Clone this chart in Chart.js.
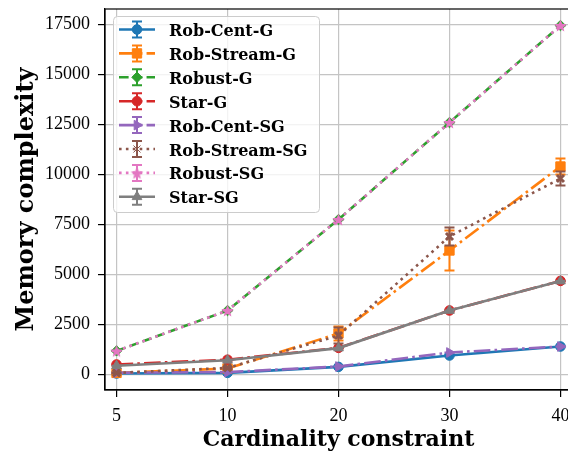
<!DOCTYPE html>
<html>
<head>
<meta charset="utf-8">
<script src="https://cdn.jsdelivr.net/npm/chart.js@4.4.1/dist/chart.umd.min.js"></script>
<style>
  html, body { margin: 0; padding: 0; background: #ffffff; width: 568px; height: 452px; overflow: hidden; }
  #wrap { position: absolute; left: 0; top: 0; width: 580px; height: 452px; }
</style>
</head>
<body>
<div id="wrap"><canvas id="c" width="580" height="452"></canvas></div>
<script>
// ---------------- data ----------------
const categories = ['5', '10', '20', '30', '40'];
const yTicks = [0, 2500, 5000, 7500, 10000, 12500, 15000, 17500];

const seriesNames = ['Rob-Cent-G', 'Rob-Stream-G', 'Robust-G', 'Star-G',
                     'Rob-Cent-SG', 'Rob-Stream-SG', 'Robust-SG', 'Star-SG'];

const robCentG      = [50, 80, 380, 950, 1400];
const robStreamG    = [80, 300, 2050, 6200, 10400];
const robustG       = [1180, 3200, 7750, 12600, 17450];
const starG         = [500, 740, 1330, 3200, 4680];
const robCentSG     = [90, 120, 400, 1100, 1400];
const robStreamSG   = [80, 330, 1950, 6900, 9800];
const robustSG      = [1180, 3200, 7750, 12600, 17450];
const starSG        = [440, 710, 1320, 3200, 4670];

const robCentGErr    = [0, 0, 0, 0, 0];
const robStreamGErr  = [20, 50, 350, 1000, 400];
const robustGErr     = [0, 0, 0, 0, 0];
const starGErr       = [0, 0, 0, 0, 0];
const robCentSGErr   = [0, 0, 0, 0, 0];
const robStreamSGErr = [20, 50, 400, 450, 350];
const robustSGErr    = [0, 0, 0, 0, 0];
const starSGErr      = [0, 0, 0, 0, 0];

const seriesValues = [robCentG, robStreamG, robustG, starG, robCentSG, robStreamSG, robustSG, starSG];
const seriesErrors = [robCentGErr, robStreamGErr, robustGErr, starGErr, robCentSGErr, robStreamSGErr, robustSGErr, starSGErr];

// ---------------- styles ----------------
const LW = 2.6;
const colors = ['#1f77b4', '#ff7f0e', '#2ca02c', '#d62728', '#9467bd', '#8c564b', '#e377c2', '#7f7f7f'];
const DASH = { solid: [], dashed: [3.7 * LW, 1.6 * LW], dashdot: [6.4 * LW, 1.6 * LW, 1 * LW, 1.6 * LW], dotted: [1 * LW, 1.65 * LW] };
const dashes = [DASH.solid, DASH.dashdot, DASH.dashed, DASH.dashdot, DASH.dashdot, DASH.dotted, DASH.dotted, DASH.solid];
const markers = ['circle', 'rect', 'rectRot', 'circle', 'triangle', 'crossRot', 'star5', 'triangle'];
const rotations = [0, 0, 0, 0, 90, 0, 0, 0];
const radii = [4.8, 6.6, 5.2, 4.8, 5.6, 5.0, 6.5, 5.6];

function starCanvas(color, r) {
  const s = Math.ceil(r * 2 + 2);
  const cv = document.createElement('canvas');
  cv.width = s; cv.height = s;
  const g = cv.getContext('2d');
  g.translate(s / 2, s / 2 + r * 0.1);
  g.beginPath();
  for (let k = 0; k < 10; k++) {
    const rr = k % 2 === 0 ? r : r * 0.45;
    const a = -Math.PI / 2 + k * Math.PI / 5;
    const px = rr * Math.cos(a), py = rr * Math.sin(a);
    if (k === 0) g.moveTo(px, py); else g.lineTo(px, py);
  }
  g.closePath();
  g.fillStyle = color; g.fill();
  return cv;
}

function pointStyleFor(i) {
  if (markers[i] === 'star5') return starCanvas(colors[i], radii[i]);
  return markers[i];
}

const datasets = seriesNames.map((name, i) => ({
  label: name,
  data: seriesValues[i].map((v, k) => ({ x: k, y: v })),
  errors: seriesErrors[i],
  borderColor: colors[i],
  backgroundColor: colors[i],
  borderWidth: LW,
  borderDash: dashes[i],
  borderCapStyle: 'butt',
  pointStyle: pointStyleFor(i),
  pointRadius: radii[i],
  pointRotation: rotations[i],
  pointBorderWidth: markers[i] === 'crossRot' ? 3 : 1,
  pointBackgroundColor: colors[i],
  pointBorderColor: colors[i],
  tension: 0,
  fill: false,
  order: -i
}));

// ---------------- plugins ----------------
const errorBars = {
  id: 'errorBars',
  beforeDatasetDraw(chart, args) {
    const ds = chart.data.datasets[args.index];
    const xs = chart.scales.x, ys = chart.scales.y;
    const ctx = chart.ctx;
    ctx.save();
    ctx.strokeStyle = ds.borderColor;
    ctx.lineWidth = 2;
    ctx.setLineDash([]);
    ds.data.forEach((p, k) => {
      const e = ds.errors[k];
      const px = xs.getPixelForValue(p.x);
      const y1 = ys.getPixelForValue(p.y - e);
      const y2 = ys.getPixelForValue(p.y + e);
      ctx.beginPath();
      ctx.moveTo(px, y1); ctx.lineTo(px, y2);
      ctx.moveTo(px - 5, y1); ctx.lineTo(px + 5, y1);
      ctx.moveTo(px - 5, y2); ctx.lineTo(px + 5, y2);
      ctx.stroke();
    });
    ctx.restore();
  }
};

const frame = {
  id: 'frame',
  afterDatasetsDraw(chart) {
    const { ctx, chartArea: a } = chart;
    ctx.save();
    ctx.strokeStyle = '#000';
    ctx.lineWidth = 1.2;
    ctx.strokeRect(a.left, a.top, a.right - a.left, a.bottom - a.top);
    ctx.restore();
  }
};

function drawMarker(ctx, i, cx, cy) {
  const ps = pointStyleFor(i);
  ctx.save();
  ctx.fillStyle = colors[i];
  ctx.strokeStyle = colors[i];
  ctx.setLineDash([]);
  Chart.helpers.drawPoint(ctx, {
    pointStyle: ps, rotation: rotations[i], radius: radii[i],
    borderWidth: markers[i] === 'crossRot' ? 3 : 1
  }, cx, cy);
  ctx.restore();
}

const mplLegend = {
  id: 'mplLegend',
  afterDraw(chart) {
    const ctx = chart.ctx;
    const x0 = 113, y0 = 16, w = 206, h = 196, r = 4;
    ctx.save();
    ctx.beginPath();
    ctx.roundRect(x0 + 0.5, y0 + 0.5, w, h, r);
    ctx.fillStyle = 'rgba(255,255,255,0.8)';
    ctx.fill();
    ctx.strokeStyle = '#cccccc';
    ctx.lineWidth = 1;
    ctx.stroke();
    const rowH = 23.9;
    chart.data.datasets.forEach((ds, i) => {
      const cy = 29.5 + i * rowH;
      const lx1 = 119, lx2 = 155, cx = 137;
      ctx.save();
      ctx.strokeStyle = colors[i];
      ctx.lineWidth = LW;
      ctx.lineCap = 'butt';
      ctx.setLineDash(dashes[i]);
      ctx.beginPath(); ctx.moveTo(lx1, cy); ctx.lineTo(lx2, cy); ctx.stroke();
      ctx.setLineDash([]);
      ctx.lineWidth = 2;
      ctx.beginPath();
      ctx.moveTo(cx, cy - 8); ctx.lineTo(cx, cy + 8);
      ctx.moveTo(cx - 5, cy - 8); ctx.lineTo(cx + 5, cy - 8);
      ctx.moveTo(cx - 5, cy + 8); ctx.lineTo(cx + 5, cy + 8);
      ctx.stroke();
      ctx.restore();
      drawMarker(ctx, i, cx, cy);
      ctx.fillStyle = '#000';
      ctx.font = 'bold 16px "DejaVu Serif"';
      ctx.textBaseline = 'alphabetic';
      ctx.textAlign = 'left';
      ctx.fillText(ds.label, 169, cy + 6.5);
    });
    ctx.restore();
  }
};

// ---------------- chart ----------------
const tickFont = { family: '"Liberation Serif"', size: 18 };
const titleFont = { family: '"DejaVu Serif"', size: 22, weight: 'bold' };

new Chart(document.getElementById('c'), {
  type: 'line',
  data: { datasets },
  options: {
    responsive: false,
    animation: false,
    devicePixelRatio: 1,
    layout: { padding: { left: 0, right: 1.5, top: 9, bottom: 0 } },
    plugins: { legend: { display: false }, tooltip: { enabled: false } },
    scales: {
      x: {
        type: 'linear',
        min: -0.104, max: 4.104,
        afterBuildTicks(scale) { scale.ticks = categories.map((c, k) => ({ value: k })); },
        afterFit(scale) { scale.height = 62; scale.paddingLeft = 0; scale.paddingRight = 0; },
        ticks: {
          callback: (v) => categories[Math.round(v)],
          font: tickFont, color: '#000', padding: 8, maxRotation: 0, autoSkip: false
        },
        grid: { color: '#c4c4c4', lineWidth: 1.2, tickLength: 7, tickColor: '#000', tickWidth: 1.2 },
        border: { display: true, color: '#000', width: 1.2 },
        title: { display: true, text: 'Cardinality constraint', font: Object.assign({}, titleFont, { lineHeight: 0.6 }), color: '#000', padding: { top: 0, bottom: 5 } }
      },
      y: {
        type: 'linear',
        min: -775, max: 18275,
        afterBuildTicks(scale) { scale.ticks = yTicks.map(v => ({ value: v })); },
        afterFit(scale) { scale.width = 105; scale.paddingTop = 0; scale.paddingBottom = 0; },
        ticks: { callback: (v) => String(v), font: tickFont, color: '#000', padding: 8 },
        grid: { color: '#c4c4c4', lineWidth: 1.2, tickLength: 7, tickColor: '#000', tickWidth: 1.2 },
        border: { display: true, color: '#000', width: 1.2 },
        title: { display: true, text: 'Memory complexity', font: Object.assign({}, titleFont, { size: 24 }), color: '#000', padding: { top: 12.5, bottom: 0 } }
      }
    }
  },
  plugins: [errorBars, frame, mplLegend]
});
</script>
</body>
</html>
